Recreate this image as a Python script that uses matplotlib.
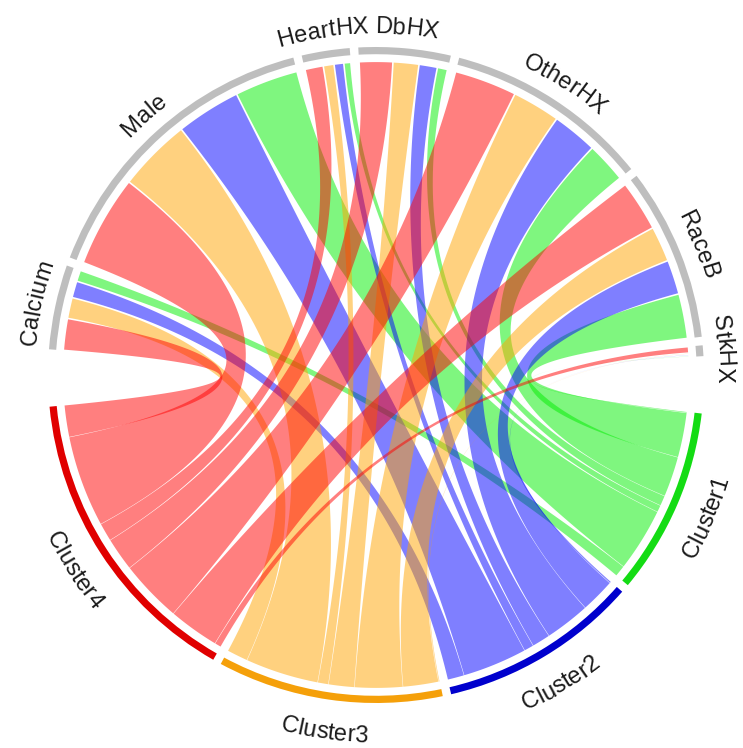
import numpy as np
import matplotlib.pyplot as plt
from matplotlib.patches import Polygon, Wedge
from matplotlib.font_manager import FontProperties

features = ['Calcium', 'Male', 'HeartHX', 'DbHX', 'OtherHX', 'RaceB', 'StkHX']
clusters = ['Cluster1', 'Cluster2', 'Cluster3', 'Cluster4']

# link widths per feature, columns = Cluster1..Cluster4
calcium = [2.1, 3.1, 3.9, 5.9]
male = [11.8, 12.0, 13.6, 17.0]
heart_hx = [1.3, 1.8, 2.0, 3.4]
db_hx = [1.9, 3.4, 4.8, 6.2]
other_hx = [7.5, 8.4, 8.9, 11.6]
race_b = [8.3, 6.4, 6.6, 9.4]
stk_hx = [0.2, 0.3, 0.2, 1.2]

track_colors = ['#14DC14', '#0000CD', '#F5A00A', '#E00000']
link_colors = ['#00EE00', '#0000FF', '#FFA500', '#FF0000']
feature_color = '#BEBEBE'

mat = np.array([calcium, male, heart_hx, db_hx, other_hx, race_b, stk_hx])

# sectors in clockwise order
names = features + clusters
widths = list(mat.sum(axis=1)) + list(mat.sum(axis=0))
n_sec = len(names)
n_feat = len(features)

small_gap = 1.5
big_gap = (360 - sum(widths) - small_gap * (n_sec - 2)) / 2
start_deg = 175.5

# start (ccw end) angle of each sector
sec_start = []
a = start_deg
for i, w in enumerate(widths):
    sec_start.append(a)
    a -= w
    if i == n_feat - 1 or i == n_sec - 1:
        a -= big_gap
    else:
        a -= small_gap

# place link ends inside each sector, sorted by counter-clockwise distance
link_pos = {}
for i in range(n_sec):
    others = []
    for j in range(n_sec):
        if i < n_feat <= j:
            v = mat[i, j - n_feat]
        elif j < n_feat <= i:
            v = mat[j, i - n_feat]
        else:
            continue
        others.append(((i - j) % n_sec, j, v))
    others.sort()
    a = sec_start[i]
    for _, j, v in others:
        link_pos[(i, j)] = (a, a - v)
        a -= v

R_LINK = 0.954
R_IN = 0.978
R_OUT = 1.0
PAD_FEAT = 0.15
PAD_CLUST = 0.04
SCALE = 328.0  # pixels per unit radius
FS = 17


def pt(ang, r=R_LINK):
    t = np.radians(ang)
    return np.array([r * np.cos(t), r * np.sin(t)])


def arc(a_from, a_to, r=R_LINK, n=40):
    t = np.radians(np.linspace(a_from, a_to, n))
    return np.column_stack([r * np.cos(t), r * np.sin(t)])


def bezier(p0, p2, n=80):
    t = np.linspace(0, 1, n)[:, None]
    return (1 - t) ** 2 * p0 + t ** 2 * p2  # control point at the centre


def shrink(a1, a2, pad):
    if a1 - a2 > 2 * pad:
        return a1 - pad, a2 + pad
    m = (a1 + a2) / 2
    return m + 0.01, m - 0.01


fig = plt.figure(figsize=(7.43, 7.48), dpi=100)
ax = fig.add_axes([0, 0, 1, 1])
cx, cy = 376.0, 375.0
ax.set_xlim(-cx / SCALE, (743 - cx) / SCALE)
ax.set_ylim(-(748 - cy) / SCALE, cy / SCALE)
ax.set_aspect('equal')
ax.axis('off')

# links
for r in range(n_feat):
    for c in range(len(clusters)):
        j = n_feat + c
        a1, a2 = shrink(*link_pos[(r, j)], PAD_FEAT)
        b1, b2 = shrink(*link_pos[(j, r)], PAD_CLUST)
        verts = np.vstack([arc(a1, a2), bezier(pt(a2), pt(b1)),
                           arc(b1, b2), bezier(pt(b2), pt(a1))])
        ax.add_patch(Polygon(verts, closed=True, facecolor=link_colors[c],
                             alpha=0.5, edgecolor='none'))

# bent labels, one character at a time
renderer = fig.canvas.get_renderer()
prop = FontProperties(family='Liberation Sans', size=FS)


def text_w(s):
    if not s:
        return 0.0
    w, _, _ = renderer.get_text_width_height_descent(s, prop, ismath=False)
    return w


def bent_label(name, mid):
    mid_n = (mid + 180) % 360 - 180
    top = mid_n > 0
    r_base = 1.042 if top else 1.12
    total = text_w(name)
    for k, ch in enumerate(name):
        off = (text_w(name[:k]) + text_w(name[:k + 1])) / 2 - total / 2
        dang = np.degrees(off / (r_base * SCALE))
        ang = mid_n - dang if top else mid_n + dang
        rot = ang - 90 if top else ang + 90
        x, y = pt(ang, r_base)
        ax.text(x, y, ch, rotation=rot, rotation_mode='anchor', ha='center',
                va='baseline', fontproperties=prop, color='#1a1a1a')


# outer tracks and labels
for i, name in enumerate(names):
    s = sec_start[i]
    e = s - widths[i]
    col = feature_color if i < n_feat else track_colors[i - n_feat]
    ax.add_patch(Wedge((0, 0), R_OUT, e, s, width=R_OUT - R_IN,
                       facecolor=col, edgecolor='none'))
    bent_label(name, (s + e) / 2)

fig.savefig('out.png', dpi=100)
